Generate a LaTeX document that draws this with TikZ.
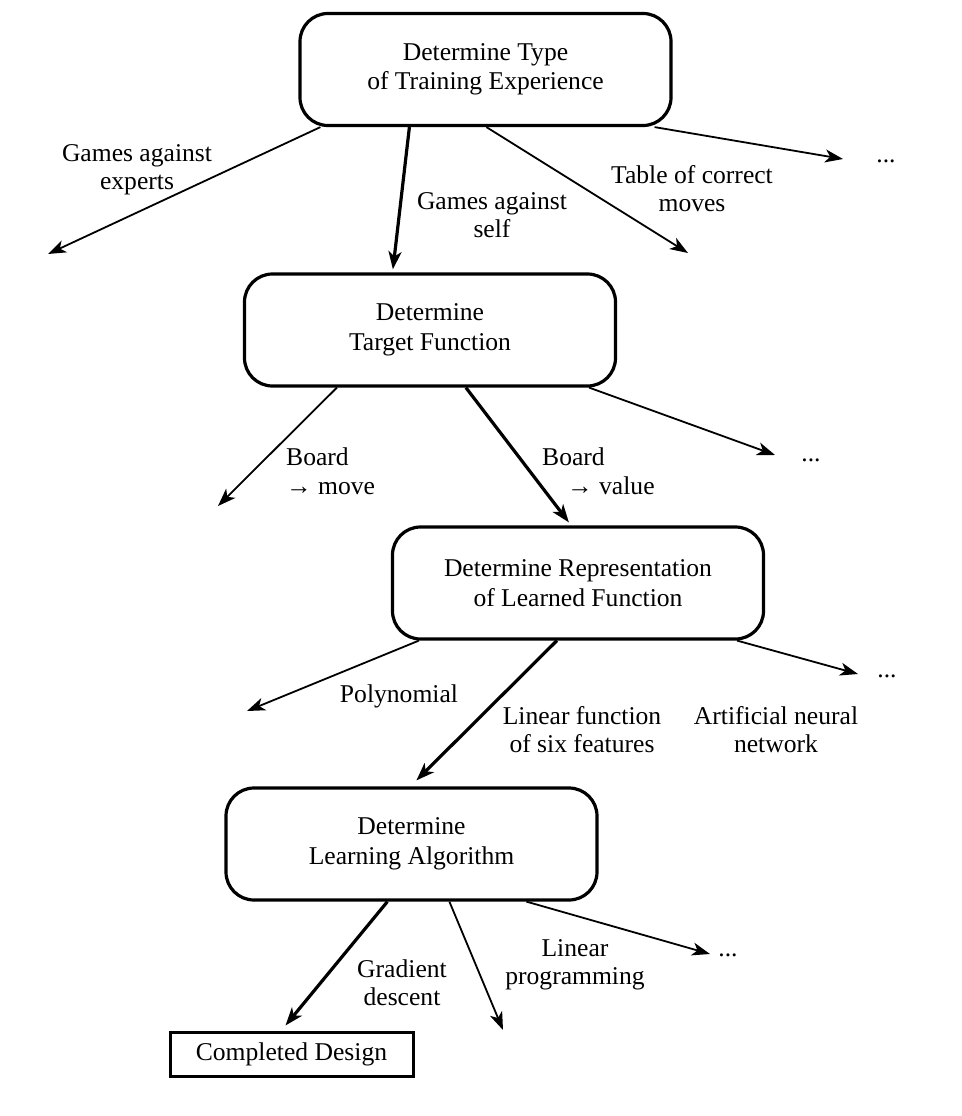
\documentclass[tikz,border=0pt]{standalone}
\usepackage{fontspec}
\setmainfont{Liberation Serif}
\usetikzlibrary{arrows.meta,calc}
\begin{document}
\begin{tikzpicture}[x=1pt,y=-1pt,
  decision/.style={draw,line width=3.2pt,rounded corners=28pt,minimum width=371pt,minimum height=112pt,align=center,inner sep=0pt,font=\fontsize{25.6}{29.5}\selectfont},
  finalbox/.style={draw,line width=3pt,minimum width=243pt,minimum height=44pt,inner sep=0pt,font=\fontsize{25.6}{29}\selectfont},
  lbl/.style={inner sep=0pt,align=center,font=\fontsize{25.6}{28}\selectfont},
  lbll/.style={inner sep=0pt,align=left,anchor=west,font=\fontsize{25.6}{29}\selectfont},
  dots/.style={inner sep=0pt,font=\fontsize{25.6}{29}\selectfont},
  thinarrow/.style={line width=1.8pt,-{Stealth[length=18pt,width=13pt,inset=5pt]}},
  thickarrow/.style={line width=3.2pt,-{Stealth[length=18pt,width=13pt,inset=5pt]}}
]
\useasboundingbox (0,0) rectangle (961,1116);

% boxes
\node[decision] (b1) at (485.5,69.5) {Determine Type\\of Training Experience};
\node[decision] (b2) at (430,330) {Determine\\Target Function};
\node[decision] (b3) at (578,583) {Determine Representation\\of Learned Function};
\node[decision] (b4) at (411.5,844) {Determine\\Learning Algorithm};
\node[finalbox] (b5) at (291.5,1054) {Completed Design};

% free ends
\coordinate (e1a) at (48,254);
\coordinate (e1c) at (688,253);
\node[dots] (d1) at (886,161) {...};
\coordinate (e1d) at (843,159);

\coordinate (e2a) at (218,506);
\node[dots] (d2) at (811,460) {...};
\coordinate (e2c) at (775,455);

\coordinate (e3a) at (247,711);
\node[dots] (d3) at (887,676) {...};
\coordinate (e3c) at (858,674);

\coordinate (e4b) at (503,1030);
\node[dots] (d4) at (728,955) {...};
\coordinate (e4c) at (710,954);

% connectors from b1
\draw[thinarrow] ($(b1.south west)+(22,0)$) -- (e1a);
\draw[thickarrow] ($(b1.south west)+(111,0)$) -- ($(b2.north west)+(150,-3)$);
\draw[thinarrow] ($(b1.south west)+(188,0)$) -- (e1c);
\draw[thinarrow] ($(b1.south east)+(-18,0)$) -- (e1d);

% connectors from b2
\draw[thinarrow] ($(b2.south west)+(94,0)$) -- (e2a);
\draw[thickarrow] ($(b2.south west)+(223,0)$) -- ($(b3.north west)+(178,-3)$);
\draw[thinarrow] ($(b2.south east)+(-28,0)$) -- (e2c);

% connectors from b3
\draw[thinarrow] ($(b3.south west)+(28,0)$) -- (e3a);
\draw[thickarrow] ($(b3.south west)+(166,0)$) -- ($(b4.north west)+(192,-6)$);
\draw[thinarrow] ($(b3.south east)+(-28,0)$) -- (e3c);

% connectors from b4
\draw[thickarrow] ($(b4.south west)+(163,0)$) -- ($(b5.north west)+(117,-5)$);
\draw[thinarrow] ($(b4.south west)+(225,0)$) -- (e4b);
\draw[thinarrow] ($(b4.south west)+(302,0)$) -- (e4c);

% labels
\node[lbl] (l1a) at (137,170) {Games against\\experts};
\node[lbl] (l1b) at (492,215) {Games against\\self};
\node[lbl] (l1c) at (692,189) {Table of correct\\moves};
\node[lbll] (l2a) at (286,471) {Board\\→ move};
\node[lbll] (l2b) at (542,471) {Board\\\hspace*{25pt}→ value};
\node[lbl] (l3a) at (399,696) {Polynomial};
\node[lbl] (l3b) at (582,730) {Linear function\\of six features};
\node[lbl] (l3c) at (776,730) {Artificial neural\\network};
\node[lbl] (l4a) at (402,983) {Gradient\\descent};
\node[lbl] (l4b) at (575,965) {Linear\\programming};
\end{tikzpicture}
\end{document}
